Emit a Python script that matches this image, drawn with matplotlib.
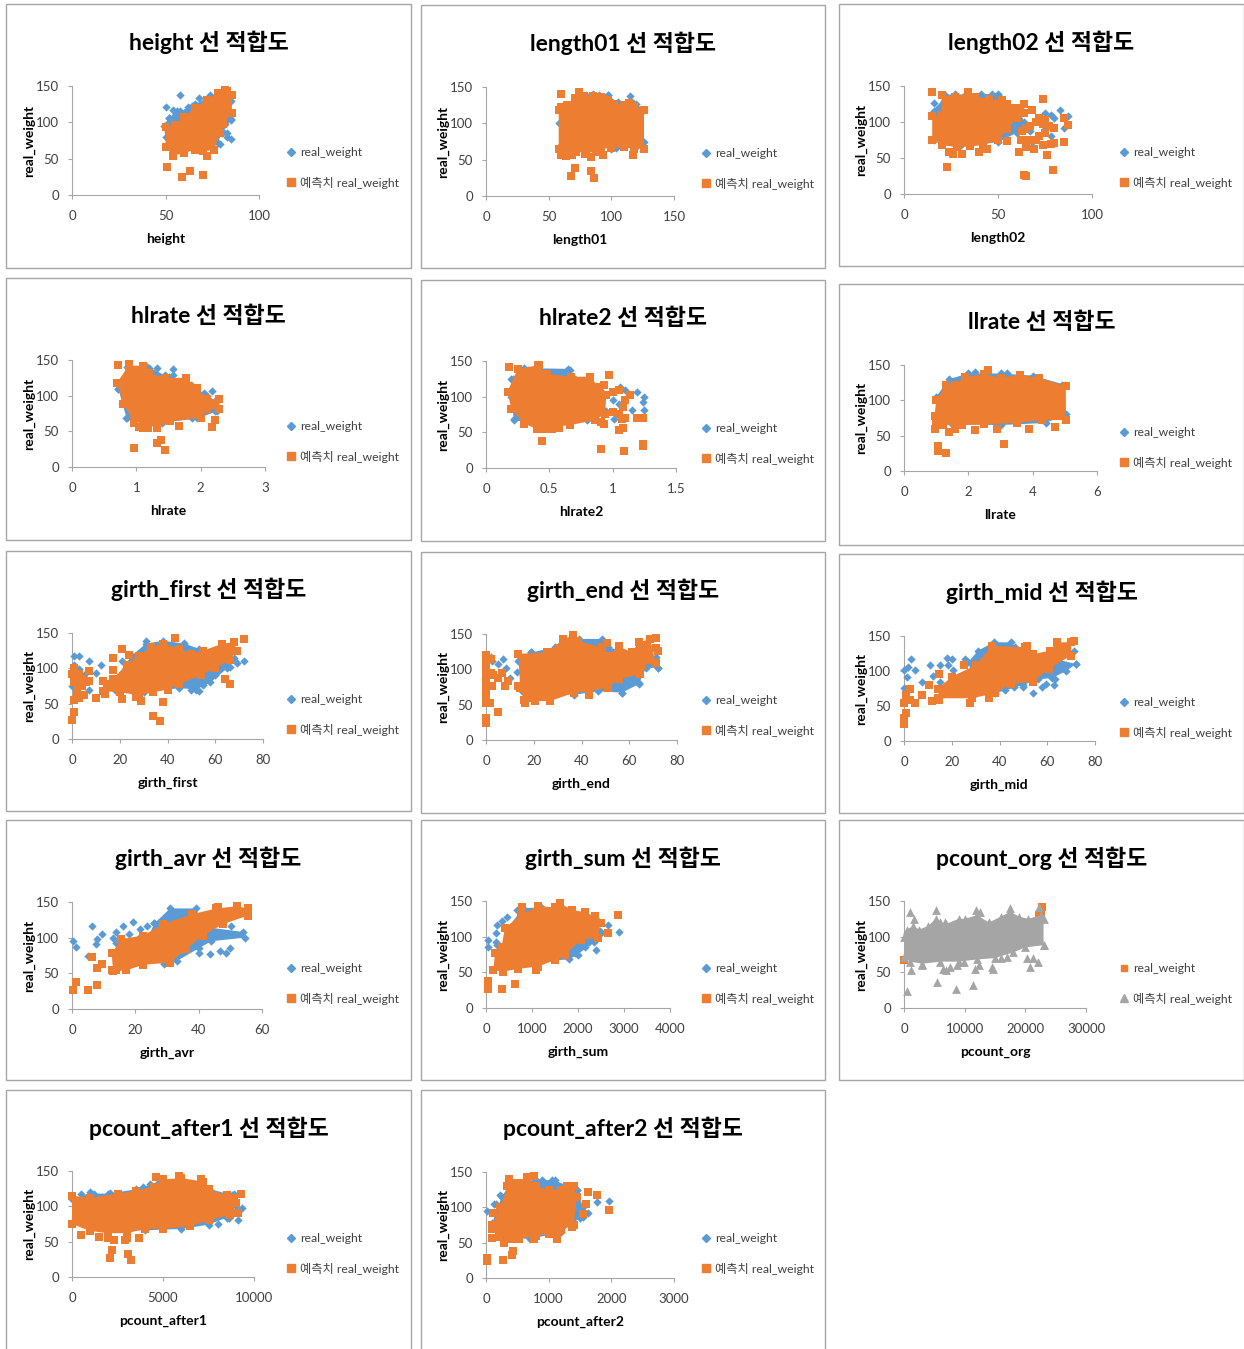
#!/usr/bin/env python3
"""Scatter fit panels: real_weight vs each input variable, 14 small charts."""

import matplotlib
matplotlib.use('Agg')
import matplotlib.pyplot as plt
from matplotlib.lines import Line2D
from matplotlib.patches import Rectangle

W, H = 1244, 1349
FONT = ['Lato', 'Noto Sans CJK KR', 'DejaVu Sans']
BLUE = '#5B9BD5'
ORANGE = '#ED7D31'
GRAY = '#A5A5A5'

names = ['height', 'length01', 'length02', 'hlrate', 'hlrate2', 'llrate',
         'girth_first', 'girth_end', 'girth_mid', 'girth_avr', 'girth_sum',
         'pcount_org', 'pcount_after1', 'pcount_after2']
x_ticks = [[0, 50, 100], [0, 50, 100, 150], [0, 50, 100], [0, 1, 2, 3],
           [0, 0.5, 1, 1.5], [0, 2, 4, 6], [0, 20, 40, 60, 80], [0, 20, 40, 60, 80],
           [0, 20, 40, 60, 80], [0, 20, 40, 60], [0, 1000, 2000, 3000, 4000],
           [0, 10000, 20000, 30000], [0, 5000, 10000], [0, 1000, 2000, 3000]]
y_ticks = [0, 50, 100, 150]

# panel frames in pixels: left, top, right, bottom
frames = [(6, 4, 411, 268), (421, 5, 825, 268), (839, 4, 1244, 266),
          (6, 278, 411, 540), (421, 280, 825, 541), (839, 284, 1244, 545),
          (6, 551, 411, 811), (421, 552, 825, 813), (839, 554, 1244, 813),
          (6, 820, 411, 1080), (421, 820, 825, 1080), (839, 820, 1244, 1080),
          (6, 1090, 411, 1360), (421, 1090, 825, 1360)]
# plot areas in pixels: x at zero, x at max, y at 150, y at zero
plots = [(72, 259, 86, 195), (486, 674, 87, 196), (904, 1092, 86, 194),
         (72, 265, 360, 467), (486, 676, 361, 468), (904, 1097, 365, 471),
         (72, 263, 633, 739), (486, 677, 634, 740), (904, 1095, 636, 741),
         (72, 262, 902, 1009), (486, 670, 901, 1008), (904, 1086, 901, 1008),
         (72, 254, 1171, 1277), (486, 674, 1172, 1278)]

# Dense clouds are read as outlines, stragglers as single points.
height_blue_cloud = [(49, 95), (52, 106), (58, 115), (66, 125), (73, 135), (80, 140), (85, 130), (85, 103), (80, 85), (78, 72), (60, 70), (50, 80)]
height_blue_pts = [(50, 121), (58, 138), (54, 117), (56, 116), (62, 121), (64, 122), (68, 133), (74, 138), (50, 97), (52, 106), (55, 110), (60, 113), (85, 104), (82, 98), (78, 86), (81, 87), (79, 70), (83, 80), (85, 77), (83, 86)]
height_orange_cloud = [(50, 93), (55, 97), (60, 108), (66, 120), (72, 131), (78, 140), (83, 143), (85.5, 137), (85.5, 113), (81, 98), (79, 85), (76, 62), (70, 60), (66, 62), (60, 58), (54, 54), (50, 66)]
height_orange_pts = [(51, 39), (59, 25), (63, 33), (70, 28), (72, 53), (82, 144)]

length01_blue_cloud = [(58, 100), (70, 130), (85, 140), (97, 139), (105, 129), (120, 127), (126, 118), (126, 75), (119, 66), (100, 65), (88, 68), (60, 70)]
length01_blue_pts = [(115, 137), (117, 128), (97, 139), (90, 139), (80, 139), (104, 66), (118, 68)]
length01_orange_cloud = [(58, 118), (60, 122), (65, 125), (69, 125), (71, 135), (74, 143), (78, 138), (85, 138), (92, 136), (97, 132), (102, 127), (110, 125), (114, 128), (118, 124), (126, 118), (126, 65), (118, 65), (110, 68), (100, 66), (92, 65), (88, 60), (80, 60), (72, 60), (65, 60), (60, 58), (58, 65)]
length01_orange_pts = [(60, 141), (60, 56), (64, 55), (69, 57), (79, 58), (84, 53), (93, 57), (117, 56), (71, 39), (68, 27), (84, 35), (86, 25), (74, 143)]

length02_blue_cloud = [(16, 115), (22, 138), (50, 139), (53, 128), (62, 112), (64, 100), (60, 85), (50, 72), (30, 66), (16, 75)]
length02_blue_pts = [(16, 127), (18, 120), (27, 139), (33, 139), (41, 139), (47, 139), (50, 138), (75, 113), (78, 110), (83, 116), (87, 109), (85, 92), (80, 105), (78, 80), (75, 90), (68, 72), (60, 90), (67, 87), (62, 92)]
length02_orange_cloud = [(15, 108), (20, 110), (20, 138), (27, 135), (34, 140), (38, 135), (45, 132), (52, 130), (55, 125), (64, 125), (64, 113), (60, 105), (55, 90), (50, 75), (42, 68), (35, 66), (28, 65), (20, 68), (15, 75)]
length02_orange_pts = [(15, 142), (34, 142), (74, 132), (68, 117), (72, 105), (75, 103), (70, 100), (74, 97), (80, 92), (77, 95), (85, 105), (87, 96), (65, 90), (67, 95), (63, 88), (75, 85), (72, 80), (70, 75), (66, 75), (62, 75), (74, 68), (78, 70), (80, 71), (85, 72), (69, 63), (65, 65), (61, 58), (76, 54), (79, 33), (64, 27), (65, 25), (23, 38), (24, 58), (26, 55), (31, 56), (40, 59), (44, 62), (55, 73)]

hlrate_blue_cloud = [(0.72, 110), (0.85, 140), (1.15, 142), (1.5, 126), (1.85, 115), (2.1, 100), (2.25, 92), (2.25, 78), (1.95, 68), (1.4, 62), (0.85, 68), (0.78, 90)]
hlrate_blue_pts = [(1.19, 139), (1.32, 139), (1.57, 138), (1.57, 129), (1.45, 129), (2.05, 104), (2.17, 107), (2.25, 96), (2.23, 78), (0.84, 69), (1.87, 68), (0.71, 109)]
hlrate_orange_cloud = [(0.7, 118), (0.88, 142), (1.11, 142), (1.19, 132), (1.45, 125), (1.77, 125), (1.82, 114), (1.95, 111), (2.1, 95), (2.29, 95), (2.29, 81), (2.1, 81), (2.0, 69), (1.53, 64), (1.32, 55), (0.96, 64), (0.8, 88)]
hlrate_orange_pts = [(0.72, 143), (0.88, 144), (0.96, 62), (1.04, 56), (1.11, 55), (1.18, 54), (1.66, 58), (2.17, 56), (2.23, 66), (1.39, 38), (1.32, 34), (0.97, 27), (1.45, 24)]

hlrate2_blue_cloud = [(0.2, 125), (0.3, 140), (0.65, 139), (0.7, 125), (0.9, 110), (0.95, 80), (0.8, 67), (0.5, 60), (0.22, 67), (0.2, 100)]
hlrate2_blue_pts = [(0.66, 138), (0.33, 137), (0.21, 125), (0.22, 68), (1.06, 114), (1.1, 110), (1.19, 107), (1.25, 100), (1.24, 92), (1.25, 81), (1.15, 82), (1.05, 90), (1.01, 69), (1.0, 96)]
hlrate2_orange_cloud = [(0.17, 107), (0.25, 139), (0.41, 144), (0.48, 132), (0.67, 128), (0.82, 128), (0.89, 114), (0.95, 102), (0.94, 76), (0.86, 67), (0.66, 60), (0.4, 55), (0.3, 62), (0.2, 83)]
hlrate2_orange_pts = [(0.18, 142), (0.42, 144), (0.97, 131), (0.93, 117), (1.0, 107), (1.05, 109), (1.14, 102), (1.1, 95), (1.08, 85), (1.0, 78), (1.05, 76), (1.07, 69), (1.1, 70), (1.19, 70), (1.24, 70), (1.08, 56), (1.05, 53), (0.93, 61), (0.91, 64), (0.46, 54), (0.52, 55), (0.58, 56), (0.44, 38), (0.91, 27), (1.09, 24), (1.24, 34), (1.24, 31)]

llrate_blue_cloud = [(1.0, 105), (1.4, 130), (2.0, 138), (3.0, 138), (4.0, 135), (5.0, 122), (5.03, 80), (4.4, 68), (3.0, 65), (1.5, 66), (1.0, 80)]
llrate_blue_pts = [(2.2, 140), (3.2, 139), (4.9, 122)]
llrate_orange_cloud = [(1.0, 100), (1.3, 122), (1.6, 122), (1.9, 133), (2.5, 137), (3.0, 132), (3.6, 136), (4.2, 132), (5.03, 120), (5.03, 72), (4.3, 72), (3.5, 68), (2.5, 66), (1.8, 65), (1.2, 65), (0.95, 78)]
llrate_orange_pts = [(1.05, 35), (1.05, 28), (1.3, 25), (3.1, 38), (1.4, 55), (1.6, 60), (2.2, 58), (2.9, 60), (3.9, 60), (4.7, 62), (0.95, 60), (1.0, 70), (2.6, 143)]

girth_first_blue_cloud = [(18, 85), (25, 118), (31, 135), (38, 139), (47, 135), (53, 128), (68, 115), (65, 100), (58, 80), (52, 70), (45, 72), (30, 66), (18, 70)]
girth_first_blue_pts = [(1, 118), (3, 118), (7, 110), (12, 105), (10, 93), (1, 105), (3, 99), (5, 90), (0, 75), (7, 70), (21, 110), (31, 138), (72, 110), (69, 108), (66, 102), (60, 90), (55, 76), (50, 70), (53, 68), (47, 136)]
girth_first_orange_cloud = [(13, 82), (17, 85), (23, 105), (28, 118), (33, 130), (38, 135), (45, 128), (50, 120), (55, 125), (63, 135), (68, 137), (69, 125), (66, 112), (60, 100), (54, 90), (45, 78), (40, 70), (34, 66), (28, 62), (20, 66), (13, 68)]
girth_first_orange_pts = [(0, 92), (1, 100), (3, 92), (7, 96), (1, 80), (2, 70), (1, 55), (3, 58), (5, 62), (6, 80), (7, 82), (4, 75), (0, 27), (1, 38), (10, 58), (14, 64), (17, 115), (21, 128), (24, 119), (17, 98), (21, 57), (27, 60), (29, 54), (38, 53), (34, 33), (37, 25), (43, 143), (64, 85), (66, 78), (72, 142), (2, 65), (4, 85)]

girth_end_blue_cloud = [(13.6, 112), (19, 124), (29, 131), (39, 143), (48.5, 143), (51, 131), (71, 117), (72, 102), (67, 102), (64, 79), (57, 67), (47, 69), (37, 64), (15, 69)]
girth_end_blue_pts = [(2, 117), (2.4, 112), (7, 114), (5, 107), (8.3, 102), (10, 88), (12.8, 96), (19, 124), (29, 130), (72, 102), (57, 67), (64, 81), (48.5, 140)]
girth_end_orange_cloud = [(13.6, 122), (25.6, 124), (32.4, 143), (36.6, 148), (38.7, 140), (48.5, 131), (51.3, 119), (55.5, 133), (61, 124), (63.9, 138), (68.8, 143), (71, 109), (65, 105), (64.6, 93), (55.5, 86), (51.3, 74), (43, 69), (37, 67), (26.8, 55), (20.5, 55), (16.4, 52), (14.3, 74)]
girth_end_orange_pts = [(0, 120), (0, 110), (0, 100), (0, 90), (0, 80), (0, 70), (0, 60), (0, 52), (2, 115), (2, 95), (3, 92), (1.7, 52), (0, 31), (0, 24), (4.9, 39), (2.4, 76), (6.6, 95), (5.2, 88), (8, 76), (9.4, 83), (13.6, 76), (16, 57), (50.6, 137), (71, 144), (71, 130), (72, 126), (43, 64)]

girth_mid_blue_cloud = [(27, 113), (31, 129), (37.5, 141), (45, 141), (46.5, 134), (60, 120), (72, 110), (68, 100), (62, 90), (56, 88), (50, 80), (38, 68), (30, 68)]
girth_mid_blue_pts = [(0, 101), (1.8, 106), (3, 117), (4.6, 101), (1.1, 92), (0, 76), (7.7, 84), (11, 108), (12, 93), (15, 108), (18, 118), (20, 117), (18.6, 108), (20.7, 101), (25.6, 117), (15, 85), (71, 128), (72, 110), (67, 105), (63.4, 89), (63, 80), (59.5, 81), (58, 77), (54, 69), (50, 77), (46, 77), (42.4, 73), (38, 68)]
girth_mid_orange_cloud = [(14.4, 75), (20, 92), (30, 108), (36.8, 136), (50.8, 134), (54, 124), (61, 129), (64, 141), (70, 141), (70, 122), (60.6, 103), (54, 84), (45, 82), (38, 68), (28.4, 61), (14.4, 61)]
girth_mid_orange_pts = [(0, 54), (1, 66), (2.5, 75), (2.5, 59), (4.6, 55), (1, 40), (0, 33), (0, 24), (7.7, 66), (10.6, 80), (11.6, 57), (14.8, 96), (14.8, 59), (25, 108), (27.7, 54), (35.4, 62), (51.5, 136), (71, 143)]

girth_avr_blue_cloud = [(26, 120), (31, 141), (39, 141), (42, 115), (54, 108), (54.5, 100), (44, 95), (40, 85), (33, 67), (29, 63), (22, 70), (24, 100)]
girth_avr_blue_pts = [(0.2, 96), (1.3, 87), (5, 74), (6.2, 117), (9.5, 105), (8, 98), (7.7, 91), (13, 100), (14, 108), (16, 117), (19.3, 122), (21.4, 112), (23.7, 116), (26, 120), (18, 105), (21, 100), (14, 93), (17, 91), (21, 96), (50, 86), (46.6, 82), (43.5, 77), (40, 79), (48.7, 79), (50.3, 117)]
girth_avr_orange_cloud = [(12.5, 78), (15.6, 98), (22.5, 103), (28.8, 119), (38, 133), (45.6, 141), (52, 144), (55.6, 141), (55.6, 131), (47.7, 119), (41.4, 103), (36, 84), (31, 65), (22.5, 62), (17, 54), (13, 53)]
girth_avr_orange_pts = [(46, 143), (6.2, 73), (8, 58), (9.5, 63), (12.5, 55), (14, 55), (1.3, 38), (0.2, 26), (5.1, 26), (8, 33)]

girth_sum_blue_cloud = [(450, 110), (800, 140), (1200, 141), (1800, 135), (2400, 125), (2500, 105), (2350, 93), (2000, 75), (1800, 68), (1000, 65), (600, 70)]
girth_sum_blue_pts = [(35, 95), (35, 86), (210, 105), (230, 117), (340, 122), (460, 127), (665, 137), (210, 93), (230, 89), (2650, 116), (2890, 107), (2400, 82), (1930, 77), (2145, 86), (2250, 93), (2470, 108)]
girth_sum_orange_cloud = [(160, 53), (195, 77), (340, 86), (410, 112), (770, 131), (1130, 143), (1490, 141), (1600, 147), (1860, 138), (2150, 134), (2360, 129), (2490, 119), (2430, 98), (2070, 96), (1710, 74), (1490, 67), (1130, 58), (700, 55), (375, 51)]
girth_sum_orange_pts = [(790, 141), (1080, 53), (35, 38), (35, 26), (340, 26), (640, 33), (2650, 105), (2880, 131)]

# pcount_org has orange below and gray on top
pcount_org_under_pts = [(0, 67), (22500, 135), (22800, 142), (22200, 130)]
pcount_org_gray_cloud = [(0, 100), (500, 110), (1500, 115), (2500, 110), (4000, 115), (5200, 125), (6000, 120), (7000, 118), (9000, 125), (10000, 125), (12000, 130), (14000, 120), (16000, 128), (17500, 135), (19000, 128), (20500, 125), (22500, 130), (23000, 125), (23000, 88), (20000, 85), (18000, 78), (15000, 70), (12000, 68), (9000, 65), (6000, 65), (3000, 62), (1000, 65), (0, 72)]
pcount_org_gray_pts = [(1000, 135), (1600, 125), (5200, 137), (6800, 120), (11800, 138), (12500, 135), (17500, 140), (22300, 142), (500, 24), (1200, 53), (5400, 37), (6400, 55), (6900, 53), (7600, 57), (8600, 26), (8700, 60), (9900, 65), (11400, 32), (11700, 55), (12300, 60), (14500, 58), (14600, 55), (16000, 70), (17000, 72), (20300, 70), (20800, 58), (21300, 70), (22100, 65), (3000, 60), (23000, 88)]

pcount_after1_blue_cloud = [(0, 110), (1000, 118), (2000, 118), (3500, 124), (4800, 135), (6000, 140), (7500, 125), (8800, 116), (9000, 100), (8500, 84), (7500, 74), (6000, 68), (4000, 66), (2000, 65), (0, 75)]
pcount_after1_blue_pts = [(1000, 120), (1200, 118), (500, 118), (2100, 119), (3900, 127), (4300, 132), (9350, 98), (9100, 80), (8600, 83), (8000, 75), (8900, 118), (700, 75), (1200, 75)]
pcount_after1_orange_cloud = [(0, 115), (1000, 112), (2500, 118), (3500, 122), (4500, 128), (5000, 138), (6000, 140), (7200, 135), (7500, 124), (8500, 116), (9000, 105), (8700, 88), (7500, 80), (6500, 72), (5000, 68), (4000, 68), (3000, 62), (2000, 62), (1000, 65), (0, 75)]
pcount_after1_orange_pts = [(4600, 142), (5900, 143), (7100, 139), (9300, 118), (8900, 112), (9100, 90), (8700, 92), (1500, 56), (2000, 55), (2300, 52), (2900, 52), (3000, 55), (3700, 55), (2100, 27), (2200, 38), (3100, 33), (3250, 24), (500, 60)]

pcount_after2_blue_cloud = [(100, 78), (250, 115), (400, 135), (800, 139), (1100, 138), (1450, 125), (1550, 100), (1500, 85), (1200, 65), (700, 55), (300, 58)]
pcount_after2_blue_pts = [(10, 95), (120, 105), (160, 105), (230, 117), (1770, 108), (1960, 109), (1630, 92), (1550, 87), (900, 139), (1050, 138), (1450, 125)]
pcount_after2_orange_cloud = [(100, 75), (230, 100), (340, 130), (370, 140), (650, 140), (800, 130), (1000, 125), (1200, 125), (1400, 130), (1450, 115), (1400, 75), (1200, 68), (1000, 62), (800, 60), (500, 55), (350, 55), (200, 65), (100, 70)]
pcount_after2_orange_pts = [(110, 92), (100, 57), (210, 58), (280, 50), (400, 55), (530, 55), (770, 55), (1130, 55), (1130, 60), (430, 38), (410, 32), (270, 25), (10, 28), (10, 24), (1550, 90), (1600, 105), (1620, 121), (1770, 118), (1960, 96), (650, 143), (770, 145), (1300, 130), (1380, 72)]

under_clouds = [height_blue_cloud, length01_blue_cloud, length02_blue_cloud, hlrate_blue_cloud,
                hlrate2_blue_cloud, llrate_blue_cloud, girth_first_blue_cloud, girth_end_blue_cloud,
                girth_mid_blue_cloud, girth_avr_blue_cloud, girth_sum_blue_cloud, [],
                pcount_after1_blue_cloud, pcount_after2_blue_cloud]
under_pts = [height_blue_pts, length01_blue_pts, length02_blue_pts, hlrate_blue_pts,
             hlrate2_blue_pts, llrate_blue_pts, girth_first_blue_pts, girth_end_blue_pts,
             girth_mid_blue_pts, girth_avr_blue_pts, girth_sum_blue_pts, pcount_org_under_pts,
             pcount_after1_blue_pts, pcount_after2_blue_pts]
over_clouds = [height_orange_cloud, length01_orange_cloud, length02_orange_cloud, hlrate_orange_cloud,
               hlrate2_orange_cloud, llrate_orange_cloud, girth_first_orange_cloud, girth_end_orange_cloud,
               girth_mid_orange_cloud, girth_avr_orange_cloud, girth_sum_orange_cloud, pcount_org_gray_cloud,
               pcount_after1_orange_cloud, pcount_after2_orange_cloud]
over_pts = [height_orange_pts, length01_orange_pts, length02_orange_pts, hlrate_orange_pts,
            hlrate2_orange_pts, llrate_orange_pts, girth_first_orange_pts, girth_end_orange_pts,
            girth_mid_orange_pts, girth_avr_orange_pts, girth_sum_orange_pts, pcount_org_gray_pts,
            pcount_after1_orange_pts, pcount_after2_orange_pts]


def draw_series(ax, cloud, pts, color, marker, size, z):
    # the cloud vertices get markers too, so the edge stays lumpy like the original
    if cloud:
        ax.fill([p[0] for p in cloud], [p[1] for p in cloud], color=color, lw=0, zorder=z, clip_on=False)
    all_pts = cloud + pts
    ax.scatter([p[0] for p in all_pts], [p[1] for p in all_pts], s=size, c=color, marker=marker,
               linewidths=0, zorder=z, clip_on=False)


fig = plt.figure(figsize=(W / 100, H / 100), dpi=100, facecolor='white')

for i, name in enumerate(names):
    left, top, right, bottom = frames[i]
    fig.add_artist(Rectangle((left / W, 1 - bottom / H), (right - left) / W, (bottom - top) / H,
                             transform=fig.transFigure, fill=False, ec='#A6A6A6', lw=1.0))
    x0, x1, y1, y0 = plots[i]
    ax = fig.add_axes([x0 / W, 1 - y0 / H, (x1 - x0) / W, (y0 - y1) / H])
    ax.patch.set_alpha(0)
    ax.set_xlim(x_ticks[i][0], x_ticks[i][-1])
    ax.set_ylim(0, 150)
    ax.set_xticks(x_ticks[i])
    ax.set_xticklabels([str(t) for t in x_ticks[i]], family=FONT, fontsize=9.5, color='#404040')
    ax.set_yticks(y_ticks)
    ax.set_yticklabels([str(t) for t in y_ticks], family=FONT, fontsize=9.5, color='#404040')
    ax.tick_params(length=3, width=0.8, color='#A6A6A6')
    ax.tick_params(axis='x', pad=8)
    ax.tick_params(axis='y', pad=6.5)
    for side in ['top', 'right']:
        ax.spines[side].set_visible(False)
    for side in ['left', 'bottom']:
        ax.spines[side].set_color('#A6A6A6')
        ax.spines[side].set_linewidth(0.8)

    gray_panel = name == 'pcount_org'
    if gray_panel:
        draw_series(ax, under_clouds[i], under_pts[i], ORANGE, 's', 33, 3)
        draw_series(ax, over_clouds[i], over_pts[i], GRAY, '^', 40, 4)
        handles = [Line2D([], [], ls='', marker='s', ms=5, color=ORANGE),
                   Line2D([], [], ls='', marker='^', ms=6, color=GRAY)]
    else:
        draw_series(ax, under_clouds[i], under_pts[i], BLUE, 'D', 18, 3)
        draw_series(ax, over_clouds[i], over_pts[i], ORANGE, 's', 33, 4)
        handles = [Line2D([], [], ls='', marker='D', ms=4, color=BLUE),
                   Line2D([], [], ls='', marker='s', ms=5.5, color=ORANGE)]

    fig.text((left + right) / 2 / W, 1 - (top + 38) / H, name + ' 선 적합도', family=FONT,
             fontsize=16.5, fontweight='bold', ha='center', va='center', color='black')
    fig.text((x0 + x1) / 2 / W, 1 - (y0 + 44) / H, name, family=FONT, fontsize=10,
             fontweight='bold', ha='center', va='center', color='black')
    fig.text((x0 - 43) / W, 1 - (y0 + y1) / 2 / H, 'real_weight', family=FONT, fontsize=10,
             fontweight='bold', rotation=90, ha='center', va='center', color='black')
    fig.legend(handles, ['real_weight', '예측치 real_weight'], loc='center left',
               bbox_to_anchor=((left + 279) / W, 1 - (top + 164) / H), frameon=False,
               prop={'family': FONT, 'size': 8.8}, labelcolor='#404040',
               labelspacing=1.5, handlelength=0.9, handletextpad=0.3, borderpad=0, borderaxespad=0)

plt.savefig('out.png', dpi=100, facecolor='white')
